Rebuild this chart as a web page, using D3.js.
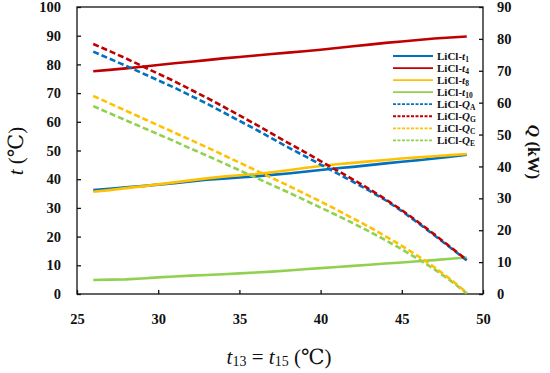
<!DOCTYPE html>
<html>
<meta charset="utf-8">
<style>
  body { margin: 0; padding: 0; background: #fff; }
  svg { display: block; }
  .tick text { font-family: "Liberation Serif", "DejaVu Serif", serif; font-weight: bold; font-size: 14.5px; fill: #111; }
  .line { fill: none; stroke-width: 2.6px; }
  .leg text { font-family: "Liberation Serif", serif; font-weight: bold; font-size: 11px; fill: #111; }
</style>
<body>
<svg id="chart" width="550" height="373"></svg>
<script src="https://cdn.jsdelivr.net/npm/d3@7"></script>
<script>
// x: t13 = t15 (°C)
var xs = [26, 27, 28, 29, 30, 31, 32, 33, 34, 35, 36, 37, 38, 39, 40, 41, 42, 43, 44, 45, 46, 47, 48, 49];

// temperatures, left axis (°C)
var t1  = [36.2, 36.7, 37.2, 37.6, 38.1, 38.6, 39.2, 39.8, 40.2, 40.6, 41.0, 41.5, 42.0, 42.6, 43.2, 43.8, 44.3, 44.9, 45.5, 46.1, 46.6, 47.2, 47.8, 48.5];
var t4  = [77.6, 78.1, 78.6, 79.2, 79.8, 80.4, 80.9, 81.5, 82.1, 82.6, 83.1, 83.6, 84.1, 84.6, 85.1, 85.7, 86.3, 86.9, 87.5, 88.0, 88.5, 89.0, 89.4, 89.7];
var t8  = [35.6, 36.2, 36.9, 37.5, 38.2, 38.9, 39.6, 40.3, 40.9, 41.4, 41.8, 42.4, 43.1, 43.9, 44.6, 45.2, 45.7, 46.2, 46.7, 47.2, 47.6, 48.0, 48.4, 48.8];
var t10 = [4.9, 5.0, 5.1, 5.4, 5.8, 6.1, 6.4, 6.6, 6.9, 7.2, 7.5, 7.8, 8.2, 8.6, 9.0, 9.4, 9.8, 10.2, 10.6, 11.0, 11.4, 11.8, 12.3, 12.7];

// heat flows, right axis (kW)
var qA = [76.0, 73.8, 71.6, 69.3, 67.0, 64.7, 62.2, 59.7, 57.0, 54.3, 51.6, 48.8, 46.0, 43.3, 40.6, 37.9, 35.2, 32.4, 29.4, 26.0, 22.3, 18.4, 14.5, 10.5];
var qG = [78.4, 76.2, 73.9, 71.5, 69.1, 66.7, 64.1, 61.5, 58.8, 56.0, 53.2, 50.3, 47.4, 44.6, 41.7, 38.8, 35.9, 32.9, 29.7, 26.3, 22.6, 18.7, 14.7, 10.7];
var qC = [62.1, 59.8, 57.5, 55.2, 52.9, 50.6, 48.3, 46.0, 43.6, 41.2, 38.8, 36.4, 34.0, 31.5, 29.0, 26.4, 23.7, 21.0, 18.1, 15.1, 11.9, 8.4, 4.6, 0.4];
var qE = [58.9, 56.7, 54.5, 52.3, 50.1, 47.9, 45.6, 43.4, 41.1, 38.8, 36.5, 34.2, 31.9, 29.5, 27.1, 24.7, 22.2, 19.6, 16.9, 14.0, 11.0, 7.8, 4.2, 0.2];

var xTicks = [25, 30, 35, 40, 45, 50];
var yTicks = [0, 10, 20, 30, 40, 50, 60, 70, 80, 90, 100];
var y2Ticks = [0, 10, 20, 30, 40, 50, 60, 70, 80, 90];

var blue = "#0070C0", red = "#C00000", orange = "#FFC000", green = "#92D050";

var series = [
  {name: "t", sub: "1",  vals: t1,  color: blue,   dash: false, axis: "L"},
  {name: "t", sub: "4",  vals: t4,  color: red,    dash: false, axis: "L"},
  {name: "t", sub: "8",  vals: t8,  color: orange, dash: false, axis: "L"},
  {name: "t", sub: "10", vals: t10, color: green,  dash: false, axis: "L"},
  {name: "Q", sub: "A",  vals: qA,  color: blue,   dash: true,  axis: "R"},
  {name: "Q", sub: "G",  vals: qG,  color: red,    dash: true,  axis: "R"},
  {name: "Q", sub: "C",  vals: qC,  color: orange, dash: true,  axis: "R"},
  {name: "Q", sub: "E",  vals: qE,  color: green,  dash: true,  axis: "R"}
];

var svg = d3.select("#chart"),
    margin = {top: 7, right: 67, bottom: 79, left: 77},
    width = 550 - margin.left - margin.right,
    height = 373 - margin.top - margin.bottom,
    g = svg.append("g").attr("transform", "translate(" + margin.left + "," + margin.top + ")");

var x = d3.scaleLinear().domain([25, 50]).range([0, width]),
    y = d3.scaleLinear().domain([0, 100]).range([height, 0]),
    y2 = d3.scaleLinear().domain([0, 90]).range([height, 0]);

// axes, ticks pointing inward
g.append("g")
    .attr("transform", "translate(0," + height + ")")
    .call(d3.axisBottom(x).tickValues(xTicks).tickSizeInner(-4).tickSizeOuter(0).tickPadding(20))
    .call(function(a) { a.select(".domain").remove(); });

g.append("g")
    .call(d3.axisLeft(y).tickValues(yTicks).tickSizeInner(-4).tickSizeOuter(0).tickPadding(16))
    .call(function(a) { a.select(".domain").remove(); });

g.append("g")
    .attr("transform", "translate(" + width + ",0)")
    .call(d3.axisRight(y2).tickValues(y2Ticks).tickSizeInner(-4).tickSizeOuter(0).tickPadding(14))
    .call(function(a) { a.select(".domain").remove(); });

g.selectAll(".tick line").attr("stroke", "#111").attr("stroke-width", 1.3);

// frame
g.append("rect")
    .attr("width", width).attr("height", height)
    .attr("fill", "none").attr("stroke", "#111").attr("stroke-width", 1.3);

// lines
var lineL = d3.line().x(function(d) { return x(d[0]); }).y(function(d) { return y(d[1]); });
var lineR = d3.line().x(function(d) { return x(d[0]); }).y(function(d) { return y2(d[1]); });

var drawOrder = [3, 0, 2, 1, 7, 6, 4, 5];
drawOrder.forEach(function(i) {
  var s = series[i];
  var pts = xs.map(function(v, j) { return [v, s.vals[j]]; });
  g.append("path")
      .attr("class", "line")
      .attr("d", (s.axis == "L" ? lineL : lineR)(pts))
      .attr("stroke", s.color)
      .attr("stroke-dasharray", s.dash ? "6,3" : null);
});

// legend
var leg = g.append("g").attr("class", "leg").attr("transform", "translate(316,49)");
series.forEach(function(s, i) {
  var row = leg.append("g").attr("transform", "translate(0," + (i * 12.05) + ")");
  row.append("line")
      .attr("x1", 0).attr("x2", 40)
      .attr("stroke", s.color).attr("stroke-width", 1.8)
      .attr("stroke-dasharray", s.dash ? "3,1.5" : null);
  var t = row.append("text").attr("x", 44).attr("dy", "0.35em");
  t.append("tspan").text("LiCl-");
  t.append("tspan").attr("font-style", "italic").text(s.name);
  t.append("tspan").attr("font-size", "7.5px").attr("dy", "2").text(s.sub);
});

// axis titles
var serif = "\"Liberation Serif\", \"DejaVu Serif\", serif";
var xt = svg.append("text")
    .attr("x", 279).attr("y", 364)
    .attr("text-anchor", "middle")
    .style("font-family", serif).style("font-size", "21px").attr("fill", "#111");
xt.append("tspan").attr("font-style", "italic").text("t");
xt.append("tspan").attr("font-size", "14px").attr("dy", "2").text("13");
xt.append("tspan").attr("dy", "-2").text(" = ");
xt.append("tspan").attr("font-style", "italic").text("t");
xt.append("tspan").attr("font-size", "14px").attr("dy", "2").text("15");
xt.append("tspan").attr("dy", "-2").text(" (\u2103)");

var yt = svg.append("text")
    .attr("transform", "translate(23,151) rotate(-90)")
    .attr("text-anchor", "middle")
    .style("font-family", serif).style("font-size", "21px").attr("fill", "#111");
yt.append("tspan").attr("font-style", "italic").text("t");
yt.append("tspan").text(" (\u2103)");

var y2t = svg.append("text")
    .attr("transform", "translate(528,152) rotate(90)")
    .attr("text-anchor", "middle")
    .style("font-family", serif).style("font-size", "17px").style("font-weight", "bold").attr("fill", "#111");
y2t.append("tspan").attr("font-style", "italic").text("Q");
y2t.append("tspan").text(" (kW)");
</script>
</body>
</html>
